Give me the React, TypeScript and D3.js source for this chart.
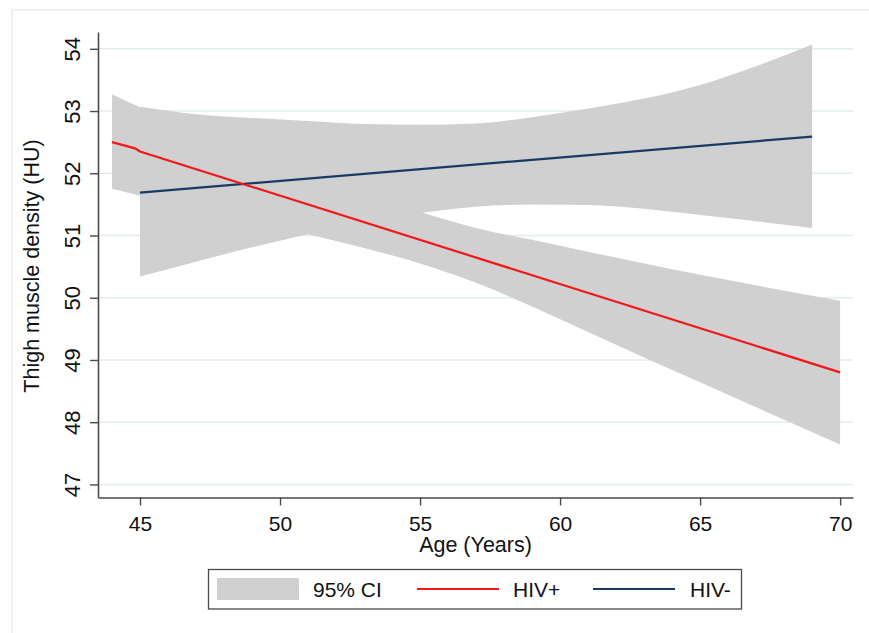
// Thigh muscle density by age, linear fits with 95% CI for HIV+ and HIV- groups

import React, { useEffect, useRef } from "react"
import * as d3 from "d3"

// HIV+ fit line (small step near age 45, as in the source)
const hivPosAges = [44, 44.82, 45, 70]
const hivPosFit = [52.5, 52.4, 52.35, 48.8]

// HIV+ confidence band
const hivPosCiAges = [44, 45, 47, 49, 51, 53, 55, 57, 59, 61, 63, 65, 67, 70]
const hivPosLower = [51.75, 51.64, 51.42, 51.22, 51.02, 50.8, 50.55, 50.24, 49.86, 49.45, 49.04, 48.64, 48.24, 47.64]
const hivPosUpper = [53.27, 53.06, 52.7, 52.4, 52.05, 51.7, 51.38, 51.12, 50.93, 50.74, 50.55, 50.37, 50.2, 49.95]

// HIV- fit line
const hivNegAges = [45, 69]
const hivNegFit = [51.69, 52.59]

// HIV- confidence band
const hivNegCiAges = [45, 47, 49, 51, 53, 55, 57, 59, 61, 63, 65, 67, 69]
const hivNegLower = [50.34, 50.58, 50.81, 51.02, 51.22, 51.36, 51.46, 51.5, 51.49, 51.43, 51.33, 51.23, 51.12]
const hivNegUpper = [53.07, 52.95, 52.89, 52.84, 52.79, 52.78, 52.8, 52.9, 53.04, 53.2, 53.42, 53.72, 54.07]

const xTicks = [45, 50, 55, 60, 65, 70]
const yTicks = [47, 48, 49, 50, 51, 52, 53, 54]

const legendLabels = ["95% CI", "HIV+", "HIV-"]

const FONT = "'Liberation Sans', Arial, sans-serif"
const BAND = "#d0d0d0"
const RED = "#f01818"
const NAVY = "#1a3a66"
const GRID = "#e2ecee"
const AXIS = "#4a4a4a"

function App() {
  const ref = useRef<SVGSVGElement>(null)

  useEffect(() => {
    const svg = d3.select(ref.current)
    svg.selectAll("*").remove()

    const W = 869
    const H = 633

    const x = d3.scaleLinear().domain([43.5, 70.46]).range([98, 853])
    const y = d3.scaleLinear().domain([46.79, 54.27]).range([497.5, 32])

    svg.append("rect").attr("width", W).attr("height", H).attr("fill", "#fff")

    // faint outer frame of the graph region
    svg.append("path")
      .attr("d", `M12,${H} L12,10 L${W},10`)
      .attr("fill", "none")
      .attr("stroke", "#e6eef0")
      .attr("stroke-width", 1.5)

    // gridlines
    svg.append("g")
      .selectAll("line")
      .data(yTicks)
      .enter()
      .append("line")
      .attr("x1", 100)
      .attr("x2", 853)
      .attr("y1", d => y(d))
      .attr("y2", d => y(d))
      .attr("stroke", GRID)
      .attr("stroke-width", 1.5)

    // CI bands
    const band = d3.area<number[]>()
      .x(d => d[0])
      .y0(d => d[1])
      .y1(d => d[2])
      .curve(d3.curveMonotoneX)

    const posBand = hivPosCiAges.map((a, i) => [x(a), y(hivPosLower[i]), y(hivPosUpper[i])])
    const negBand = hivNegCiAges.map((a, i) => [x(a), y(hivNegLower[i]), y(hivNegUpper[i])])

    svg.append("path").attr("d", band(posBand)).attr("fill", BAND)
    svg.append("path").attr("d", band(negBand)).attr("fill", BAND)

    // fit lines
    const line = d3.line<number[]>().x(d => x(d[0])).y(d => y(d[1]))

    svg.append("path")
      .attr("d", line(hivNegAges.map((a, i) => [a, hivNegFit[i]])))
      .attr("fill", "none")
      .attr("stroke", NAVY)
      .attr("stroke-width", 2.2)

    svg.append("path")
      .attr("d", line(hivPosAges.map((a, i) => [a, hivPosFit[i]])))
      .attr("fill", "none")
      .attr("stroke", RED)
      .attr("stroke-width", 2.2)

    // x axis
    const gx = svg.append("g")
      .attr("transform", "translate(0,497.5)")
      .call(d3.axisBottom(x).tickValues(xTicks).tickSize(8).tickSizeOuter(0))
    gx.select(".domain").attr("stroke", AXIS).attr("stroke-width", 1.6)
    gx.selectAll(".tick line").attr("stroke", AXIS).attr("stroke-width", 1.4)
    gx.selectAll(".tick text")
      .attr("y", 33)
      .attr("dy", null)
      .attr("fill", "#111")
      .style("font-size", "21px")
      .style("font-family", FONT)

    // y axis
    const gy = svg.append("g")
      .attr("transform", "translate(98,0)")
      .call(d3.axisLeft(y).tickValues(yTicks).tickSize(8).tickSizeOuter(0))
    gy.select(".domain").attr("stroke", AXIS).attr("stroke-width", 1.6)
    gy.selectAll(".tick line").attr("stroke", AXIS).attr("stroke-width", 1.4)
    gy.selectAll(".tick text")
      .attr("x", 0)
      .attr("y", 0)
      .attr("dy", null)
      .attr("text-anchor", "middle")
      .attr("transform", "translate(-18,0) rotate(-90)")
      .attr("fill", "#111")
      .style("font-size", "22px")
      .style("font-family", FONT)

    // axis titles
    svg.append("text")
      .attr("x", 475.5)
      .attr("y", 552)
      .attr("text-anchor", "middle")
      .attr("fill", "#111")
      .style("font-size", "21.5px")
      .style("font-family", FONT)
      .text("Age (Years)")

    svg.append("text")
      .attr("transform", "translate(38.5,266) rotate(-90)")
      .attr("text-anchor", "middle")
      .attr("fill", "#111")
      .style("font-size", "21.5px")
      .style("font-family", FONT)
      .text("Thigh muscle density (HU)")

    // legend
    const lg = svg.append("g")
    lg.append("rect")
      .attr("x", 208.5)
      .attr("y", 569.5)
      .attr("width", 533)
      .attr("height", 39.5)
      .attr("fill", "#fff")
      .attr("stroke", AXIS)
      .attr("stroke-width", 1.3)

    lg.append("rect")
      .attr("x", 217)
      .attr("y", 578)
      .attr("width", 82)
      .attr("height", 22)
      .attr("fill", BAND)

    lg.append("line")
      .attr("x1", 417).attr("x2", 499)
      .attr("y1", 589).attr("y2", 589)
      .attr("stroke", RED).attr("stroke-width", 2.2)

    lg.append("line")
      .attr("x1", 593).attr("x2", 675)
      .attr("y1", 589).attr("y2", 589)
      .attr("stroke", NAVY).attr("stroke-width", 2.2)

    const labelX = [313, 513, 690]
    lg.selectAll("text.lbl")
      .data(legendLabels)
      .enter()
      .append("text")
      .attr("class", "lbl")
      .attr("x", (d, i) => labelX[i])
      .attr("y", 597)
      .attr("fill", "#111")
      .style("font-size", "21px")
      .style("font-family", FONT)
      .text(d => d)
  }, [])

  return (
    <svg
      ref={ref}
      width={869}
      height={633}
      style={{ position: "absolute", left: 0, top: 0, display: "block" }}
    ></svg>
  )
}

export default App
